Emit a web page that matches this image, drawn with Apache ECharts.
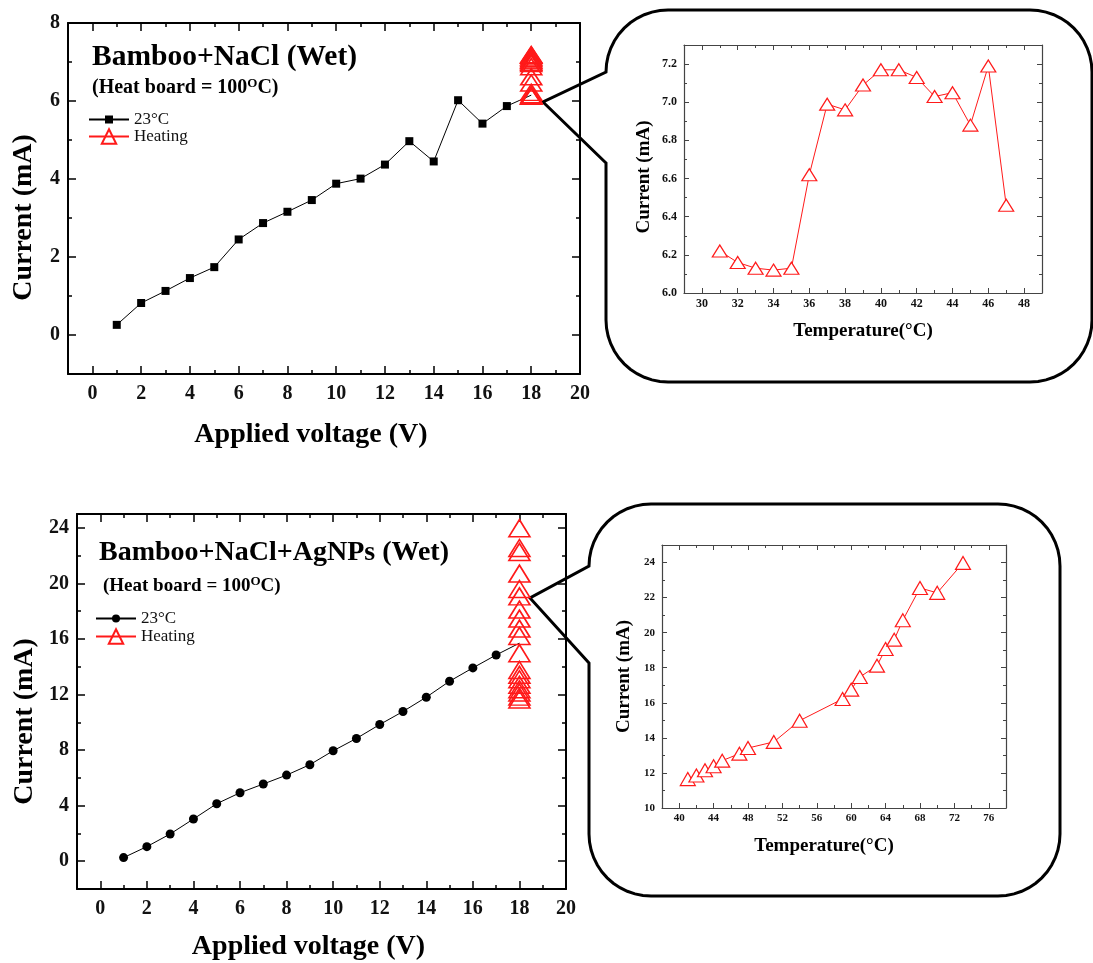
<!DOCTYPE html>
<html>
<head>
<meta charset="utf-8">
<script src="https://cdn.jsdelivr.net/npm/echarts@6/dist/echarts.min.js"></script>
<style>
    html, body { margin: 0; padding: 0; background: #fff; }
    #chart { width: 1093px; height: 963px; }
</style>
</head>
<body>
<div id="chart"></div>
<script>
// ---- data ----
var voltage = [1, 2, 3, 4, 5, 6, 7, 8, 9, 10, 11, 12, 13, 14, 15, 16, 17, 18];
var heatVoltage = 18;

// Bamboo+NaCl (Wet)
var naclCurrent = [0.26, 0.82, 1.13, 1.46, 1.74, 2.45, 2.87, 3.16, 3.46, 3.88, 4.01, 4.37, 4.97, 4.45, 6.02, 5.42, 5.87, 6.15];
var naclTemp = [31, 32, 33, 34, 35, 36, 37, 38, 39, 40, 41, 42, 43, 44, 45, 46, 47];
var naclHeating = [6.22, 6.16, 6.13, 6.12, 6.13, 6.62, 6.99, 6.96, 7.09, 7.17, 7.17, 7.13, 7.03, 7.05, 6.88, 7.19, 6.46];

// Bamboo+NaCl+AgNPs (Wet)
var agCurrent = [0.26, 1.05, 1.96, 3.04, 4.14, 4.93, 5.56, 6.20, 6.95, 7.95, 8.84, 9.84, 10.78, 11.81, 12.96, 13.92, 14.85, 15.7];
var agTemp = [41, 42, 43, 44, 45, 47, 48, 51, 54, 59, 60, 61, 63, 64, 65, 66, 68, 70, 73];
var agHeating = [11.65, 11.85, 12.15, 12.38, 12.70, 13.10, 13.42, 13.77, 14.98, 16.22, 16.75, 17.47, 18.12, 19.07, 19.60, 20.71, 22.55, 22.27, 23.98];

// tick values
var voltTicks = [0, 2, 4, 6, 8, 10, 12, 14, 16, 18, 20];
var voltMinor = [1, 3, 5, 7, 9, 11, 13, 15, 17, 19];
var naclTicks = [0, 2, 4, 6, 8];
var naclMinor = [1, 3, 5, 7];
var agTicks = [0, 4, 8, 12, 16, 20, 24];
var agMinor = [2, 6, 10, 14, 18, 22];
var naclTempTicks = [30, 32, 34, 36, 38, 40, 42, 44, 46, 48];
var naclTempMinor = [31, 33, 35, 37, 39, 41, 43, 45, 47];
var naclInsetTicks = [6.0, 6.2, 6.4, 6.6, 6.8, 7.0, 7.2];
var naclInsetMinor = [6.1, 6.3, 6.5, 6.7, 6.9, 7.1];
var agTempTicks = [40, 44, 48, 52, 56, 60, 64, 68, 72, 76];
var agTempMinor = [42, 46, 50, 54, 58, 62, 66, 70, 74];
var agInsetTicks = [10, 12, 14, 16, 18, 20, 22, 24];
var agInsetMinor = [11, 13, 15, 17, 19, 21, 23];

var SERIF = 'Liberation Serif';
var RED = '#ff1a1a';
var chart = echarts.init(document.getElementById('chart'));

var xAxes = [];
var yAxes = [];

// main axis + minor-tick axis + mirrored pair on the opposite side
function addAxes(list, c) {
    var pos = c.dim === 'x' ? ['bottom', 'top'] : ['left', 'right'];
    var idx = list.length;
    function ax(position, ticks, len, withLine, withLabel) {
        var a = {
            type: 'value',
            gridIndex: c.grid,
            min: c.min,
            max: c.max,
            position: position,
            splitLine: { show: false },
            axisLine: { show: withLine, onZero: false, lineStyle: { color: c.color, width: c.lineWidth } },
            axisTick: { show: true, inside: true, length: len, customValues: ticks, lineStyle: { color: c.color, width: c.tickWidth } },
            axisLabel: { show: false }
        };
        if (withLabel) {
            a.axisLabel = {
                show: true,
                customValues: c.major,
                margin: c.labelMargin,
                fontFamily: SERIF,
                fontWeight: 'bold',
                fontSize: c.labelSize,
                color: '#111',
                formatter: c.fmt || function (v) { return String(v); }
            };
            a.name = c.name;
            a.nameLocation = 'middle';
            a.nameGap = c.nameGap;
            a.nameTextStyle = {
                fontFamily: SERIF,
                fontWeight: 'bold',
                fontSize: c.nameSize,
                color: '#000',
                padding: c.namePadding || 0
            };
        }
        list.push(a);
    }
    ax(pos[0], c.major, c.majorLen, true, true);
    ax(pos[0], c.minor, c.minorLen, false, false);
    ax(pos[1], c.major, c.majorLen, true, false);
    ax(pos[1], c.minor, c.minorLen, false, false);
    return idx;
}

var mainStyle = { color: '#000', lineWidth: 2, tickWidth: 1.5, majorLen: 8, minorLen: 4, labelSize: 20, nameSize: 28 };
var insetStyle = { color: '#444', lineWidth: 1.2, tickWidth: 1, majorLen: 5, minorLen: 3, nameSize: 19 };

function merge(a, b) { return Object.assign({}, a, b); }

// grid 0: top main
var x0 = addAxes(xAxes, merge(mainStyle, { grid: 0, dim: 'x', min: -1, max: 20, major: voltTicks, minor: voltMinor,
    labelMargin: 10, name: 'Applied voltage (V)', nameGap: 47, namePadding: [0, 26, 0, 0] }));
var y0 = addAxes(yAxes, merge(mainStyle, { grid: 0, dim: 'y', min: -1, max: 8, major: naclTicks, minor: naclMinor,
    labelMargin: 8, name: 'Current (mA)', nameGap: 30, namePadding: [0, 38, 0, 0] }));
// grid 1: top inset
var x1 = addAxes(xAxes, merge(insetStyle, { grid: 1, dim: 'x', min: 29, max: 49, major: naclTempTicks, minor: naclTempMinor,
    labelSize: 12, labelMargin: 5, name: 'Temperature(°C)', nameGap: 29 }));
var y1 = addAxes(yAxes, merge(insetStyle, { grid: 1, dim: 'y', min: 6.0, max: 7.3, major: naclInsetTicks, minor: naclInsetMinor,
    labelSize: 12, labelMargin: 7, name: 'Current (mA)', nameGap: 30, namePadding: [0, 16, 0, 0],
    fmt: function (v) { return v.toFixed(1); } }));
// grid 2: bottom main
var x2 = addAxes(xAxes, merge(mainStyle, { grid: 2, dim: 'x', min: -1, max: 20, major: voltTicks, minor: voltMinor,
    labelMargin: 10, name: 'Applied voltage (V)', nameGap: 44, namePadding: [0, 26, 0, 0] }));
var y2 = addAxes(yAxes, merge(mainStyle, { grid: 2, dim: 'y', min: -2, max: 25, major: agTicks, minor: agMinor,
    labelMargin: 8, name: 'Current (mA)', nameGap: 38, namePadding: [0, 40, 0, 0] }));
// grid 3: bottom inset
var x3 = addAxes(xAxes, merge(insetStyle, { grid: 3, dim: 'x', min: 38, max: 78, major: agTempTicks, minor: agTempMinor,
    labelSize: 11, labelMargin: 5, name: 'Temperature(°C)', nameGap: 29, namePadding: [0, 20, 0, 0] }));
var y3 = addAxes(yAxes, merge(insetStyle, { grid: 3, dim: 'y', min: 10, max: 25, major: agInsetTicks, minor: agInsetMinor,
    labelSize: 11, labelMargin: 7, name: 'Current (mA)', nameGap: 28 }));

function pairs(xs, ys) {
    return ys.map(function (v, i) { return [xs[i], v]; });
}
// the 18 V point of the room-temperature curve sits under the heating stack: line only, no marker
function pairsHideAt(xs, ys, hideX) {
    return ys.map(function (v, i) {
        return xs[i] === hideX ? { value: [xs[i], v], symbol: 'none' } : [xs[i], v];
    });
}
function atVoltage(ys) {
    return ys.map(function (v) { return [heatVoltage, v]; });
}
function stripPrefix(name) { return name.replace(/^\S+ /, ''); }

// outline of a rounded callout box with a pointer on its left side
function arcPts(cx, cy, r, a0, a1) {
    var out = [];
    for (var i = 0; i <= 12; i++) {
        var a = (a0 + (a1 - a0) * i / 12) * Math.PI / 180;
        out.push([cx + r * Math.cos(a), cy + r * Math.sin(a)]);
    }
    return out;
}
function callout(l, t, r, b, rad, notchLow, tip) {
    var pts = [[l, notchLow], tip];
    pts = pts.concat(arcPts(l + rad, t + rad, rad, 180, 270));
    pts = pts.concat(arcPts(r - rad, t + rad, rad, 270, 360));
    pts = pts.concat(arcPts(r - rad, b - rad, rad, 0, 90));
    pts = pts.concat(arcPts(l + rad, b - rad, rad, 90, 180));
    return pts;
}

var legendText = { fontFamily: SERIF, fontSize: 17, color: '#111' };
function titleStyle(size) {
    return { fontFamily: SERIF, fontWeight: 'bold', fontSize: size, color: '#000', lineHeight: 30 };
}
function subStyle(size) {
    return {
        fontFamily: SERIF, fontWeight: 'bold', fontSize: size, color: '#000', lineHeight: 22,
        rich: { sup: { fontFamily: SERIF, fontWeight: 'bold', fontSize: 13, lineHeight: 13, verticalAlign: 'top', color: '#000' } }
    };
}

function legendItem(name, left, top, h) {
    return {
        data: [{ name: name, lineStyle: { opacity: 1 } }],
        left: left, top: top, padding: 0, itemWidth: 40, itemHeight: h,
        selectedMode: false, formatter: stripPrefix, textStyle: legendText,
        lineStyle: { opacity: 1 }
    };
}

var option = {
    backgroundColor: '#fff',
    animation: false,
    title: [
        { text: 'Bamboo+NaCl (Wet)', left: 92, top: 42, padding: 0, textStyle: titleStyle(29.5) },
        { text: '(Heat board = 100{sup|O}C)', left: 92, top: 77, padding: 0, textStyle: subStyle(20) },
        { text: 'Bamboo+NaCl+AgNPs (Wet)', left: 99, top: 538, padding: 0, textStyle: titleStyle(28) },
        { text: '(Heat board = 100{sup|O}C)', left: 103, top: 575, padding: 0, textStyle: subStyle(19) }
    ],
    legend: [
        legendItem('NaCl 23°C', 88, 111, 10),
        legendItem('NaCl Heating', 88, 128, 18),
        legendItem('AgNPs 23°C', 95, 610, 10),
        legendItem('AgNPs Heating', 95, 628, 18)
    ],
    grid: [
        { left: 68, top: 23, width: 512, height: 351 },
        { left: 684, top: 45, width: 358, height: 248 },
        { left: 77, top: 514, width: 489, height: 375 },
        { left: 662, top: 545, width: 344, height: 263 }
    ],
    xAxis: xAxes,
    yAxis: yAxes,
    graphic: [
        {
            type: 'polygon',
            shape: { points: callout(606, 10, 1092, 382, 62, 163, [543, 102]) },
            style: { fill: 'none', stroke: '#000', lineWidth: 3, lineJoin: 'miter' },
            z: 0
        },
        {
            type: 'polygon',
            shape: { points: callout(589, 504, 1060, 896, 62, 663, [530, 598]) },
            style: { fill: 'none', stroke: '#000', lineWidth: 3, lineJoin: 'miter' },
            z: 0
        }
    ],
    series: [
        {
            name: 'NaCl 23°C', type: 'line', xAxisIndex: x0, yAxisIndex: y0,
            data: pairsHideAt(voltage, naclCurrent, heatVoltage),
            symbol: 'rect', symbolSize: 8,
            itemStyle: { color: '#000' },
            lineStyle: { color: '#000', width: 1 },
            z: 3
        },
        {
            name: 'NaCl Heating', type: 'line', xAxisIndex: x0, yAxisIndex: y0,
            data: atVoltage(naclHeating),
            symbol: 'triangle', symbolSize: [21, 16],
            itemStyle: { color: 'rgba(255,255,255,0)', borderColor: RED, borderWidth: 1.6 },
            lineStyle: { color: RED, width: 1, opacity: 0 },
            z: 4
        },
        {
            name: 'NaClInset Heating', type: 'line', xAxisIndex: x1, yAxisIndex: y1,
            data: pairs(naclTemp, naclHeating),
            symbol: 'triangle', symbolSize: [15, 12],
            itemStyle: { color: '#fff', borderColor: RED, borderWidth: 1.2 },
            lineStyle: { color: RED, width: 1 },
            z: 3
        },
        {
            name: 'AgNPs 23°C', type: 'line', xAxisIndex: x2, yAxisIndex: y2,
            data: pairsHideAt(voltage, agCurrent, heatVoltage),
            symbol: 'circle', symbolSize: 9,
            itemStyle: { color: '#000' },
            lineStyle: { color: '#000', width: 1 },
            z: 3
        },
        {
            name: 'AgNPs Heating', type: 'line', xAxisIndex: x2, yAxisIndex: y2,
            data: atVoltage(agHeating),
            symbol: 'triangle', symbolSize: [21, 17],
            itemStyle: { color: 'rgba(255,255,255,0)', borderColor: RED, borderWidth: 1.6 },
            lineStyle: { color: RED, width: 1, opacity: 0 },
            z: 4
        },
        {
            name: 'AgInset Heating', type: 'line', xAxisIndex: x3, yAxisIndex: y3,
            data: pairs(agTemp, agHeating),
            symbol: 'triangle', symbolSize: [15, 13],
            itemStyle: { color: '#fff', borderColor: RED, borderWidth: 1.2 },
            lineStyle: { color: RED, width: 1 },
            z: 3
        }
    ]
};

chart.setOption(option);
</script>
</body>
</html>
